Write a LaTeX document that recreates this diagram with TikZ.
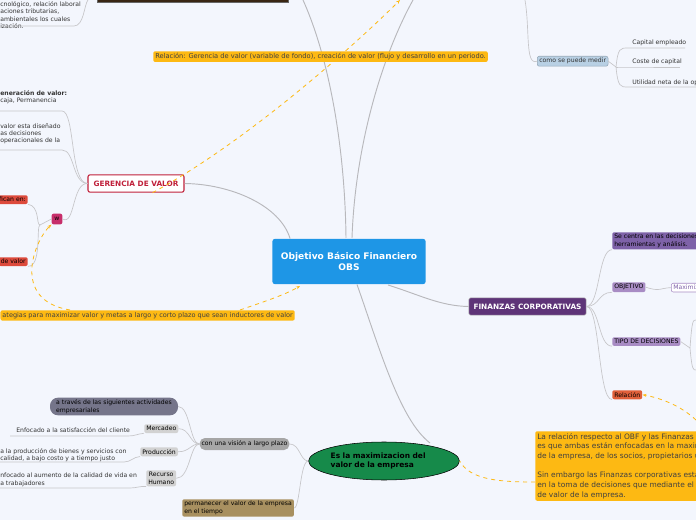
\documentclass[tikz,border=0pt]{standalone}
\usepackage{fontspec}
\setmainfont{DejaVu Sans}
\usetikzlibrary{shapes.geometric,arrows.meta}
\definecolor{bg}{HTML}{F3F6FD}
\definecolor{ln}{HTML}{B8B8BC}
\definecolor{yel}{HTML}{FDB913}
\definecolor{blu}{HTML}{1E96E6}
\definecolor{pur}{HTML}{5E3478}
\definecolor{gred}{HTML}{C0203A}
\definecolor{lpur}{HTML}{A88CC4}
\definecolor{mpur}{HTML}{7E62A8}
\definecolor{ored}{HTML}{E0603A}
\definecolor{rred}{HTML}{DD4A3C}
\definecolor{egreen}{HTML}{168A4A}
\definecolor{tan}{HTML}{A89060}
\definecolor{lblue}{HTML}{B8D0E4}
\begin{document}
\begin{tikzpicture}[x=0.75pt,y=-0.75pt,
  every node/.style={font=\fontsize{4.6}{5.6}\selectfont,inner sep=1.5pt},
  conn/.style={draw=ln,line width=0.7pt},
  thin/.style={draw=ln!80,line width=0.5pt},
  dsh/.style={draw=yel,dashed,line width=0.6pt,-{Stealth[length=3pt]}},
  box/.style={anchor=north west,rounded corners=1.5pt,align=left},
  txt/.style={anchor=north west,align=left,text=black!80}]
\fill[bg] (0,0) rectangle (696,520);
\useasboundingbox (0,0) rectangle (696,520);
\coordinate (x595) at (598,0);
\coordinate (x190) at (190,0);
% brown top box
\fill[black!70!brown,draw=black!60] (97,-10) rectangle (288,2);
\coordinate (bt) at (303,0); \coordinate (bt2) at (413,0); \coordinate (bt3) at (525,0); \coordinate (dt) at (400,0);
% central
\node[fill=blu,text=white,font=\fontsize{6.8}{8}\selectfont\bfseries,minimum width=115pt,minimum height=34pt,align=center,rounded corners=2pt] (c) at (349,261.5) {Objetivo Básico Financiero\\OBS};
\draw[conn] (346,238) .. controls (345,150) and (330,60) .. (bt);
\draw[conn] (352,238) .. controls (355,150) and (380,60) .. (bt2);
% top-left text
\node[txt] (tl) at (-2,-1) {cnológico, relación laboral\\aciones tributarias,\\ambientales los cuales\\ización.};
\draw[thin] (0,26) -- (74,26) .. controls (84,26) and (84,5) .. (88,0);
% relation box
\node[box,fill=yel,text=black!75,font=\fontsize{5}{6}\selectfont] (rel) at (153,51) {Relación: Gerencia de valor (variable de fondo), creación de valor (flujo y desarrollo en un periodo.};
% como se puede medir
\node[box,fill=lblue,draw=lblue!80!black,text=black!80] (cm) at (537,56) {como se puede medir};
\draw[thin] (bt3) .. controls (530,30) and (525,66) .. (cm.west);
\node[txt] (m1) at (630,38) {Capital empleado};
\node[txt] (m2) at (630,57) {Coste de capital};
\node[txt] (m3) at (630,77) {Utilidad neta de la operación};
\draw[thin] (cm.east) -- (616,67);
\foreach \y/\e in {48/685,67/680,87/700}{\draw[thin] (616,67) .. controls (618,\y) and (620,\y) .. (628,\y) -- (\e,\y);}
% gerencia
\node[box,anchor=center,fill=white,draw=gred,line width=0.8pt,text=gred,font=\fontsize{5.5}{6.5}\selectfont\bfseries,minimum width=72pt,minimum height=13pt] (g) at (136,183.5) {GERENCIA DE VALOR};
\draw[conn] (c.north west) ++(18,0) .. controls (280,205) and (230,184) .. (g.east);
\node[txt] (g1) at (-2,88) {\textbf{eneración de valor:}\\ caja, Permanencia};
\node[txt] (g2) at (-2,121) {valor esta diseñado\\as decisiones\\operacionales de la};
\draw[thin] (0,111) -- (62,111) .. controls (75,111) and (70,183) .. (g.west);
\draw[thin] (0,150) -- (62,150) .. controls (75,150) and (72,183) .. (g.west);
\node[box,anchor=center,fill=magenta!70!red!80!black,text=black,minimum width=8pt,minimum height=8pt] (w) at (57,219) {w};
\draw[thin] (g.west) .. controls (72,183) and (75,226) .. (w.east);
\node[box,fill=rred,text=black,anchor=north east] (r1) at (28,195) {fican en:};
\node[box,fill=rred,text=black,anchor=north east] (r2) at (28,257) {de valor};
\draw[thin] (w.west) -- (40,225) .. controls (36,225) and (40,206) .. (r1.south east);
\draw[thin] (40,225) .. controls (36,225) and (42,267) .. (r2.south east);
% bottom left yellow
\node[box,fill=yel,text=black!75,font=\fontsize{4.9}{6}\selectfont,anchor=north east] (yb) at (295,310) {ategias para maximizar valor y metas a largo y corto plazo que sean inductores de valor};
\draw[dsh] (240,310) .. controls (260,303) and (285,295) .. (300,286);
\draw[dsh] (70,310) .. controls (10,300) and (35,240) .. (w.south west);
\draw[dsh] (g.south east) ++(-32,0) .. controls (250,140) and (360,40) .. (dt);
% finanzas
\node[box,anchor=center,fill=pur,draw=black!30,text=white,font=\fontsize{5.5}{6.5}\selectfont\bfseries,minimum width=88pt,minimum height=13pt] (f) at (527.5,306.5) {FINANZAS CORPORATIVAS};
\draw[conn] (388,285) .. controls (420,295) and (440,306) .. (f.west);
\node[box,fill=mpur,text=black,font=\fontsize{4.6}{5.4}\selectfont] (f1) at (612,232) {Se centra en las decisiones n\\herramientas y análisis.};
\node[box,fill=lpur,text=black] (f2) at (612,282) {OBJETIVO};
\node[box,fill=white,draw=lpur,text=mpur] (f2a) at (671,283) {Maximiz};
\node[box,fill=lpur,text=black] (f3) at (612,337) {TIPO DE DECISIONES};
\node[box,fill=ored,text=black] (f4) at (612,390) {Relación};
\foreach \n in {f1,f2,f3,f4}{\draw[thin] (f.east) .. controls (600,306) and (x595 |- \n.south west) .. (\n.south west);}
\draw[thin] (f2.east) .. controls (660,292) and (660,288) .. (f2a.west);
\draw[thin] (f3.east) -- (690,348);
\foreach \y in {320,370}{\draw[thin] (690,348) .. controls (692,\y) and (693,\y) .. (696,\y);}
% big yellow
\node[box,fill=yel,text=black!75,font=\fontsize{5.6}{7.3}\selectfont,minimum width=150pt,minimum height=52pt] (yb2) at (535,431) {La relación respecto al OBF y las Finanzas corporativas\\es que ambas están enfocadas en la maximización de valor\\de la empresa, de los socios, propietarios u accionistas.\\[7pt]Sin embargo las Finanzas corporativas están más enfocadas\\en la toma de decisiones que mediante el OBF permite la creación\\de valor de la empresa.};
\coordinate (ye) at (696,420);
\draw[dsh] (ye) .. controls (680,405) and (660,398) .. (f4.east);
% ellipse
\node[ellipse,fill=egreen,draw=black,minimum width=111pt,minimum height=28.5pt,text width=80pt,align=left,font=\fontsize{5.6}{6.8}\selectfont\bfseries,inner sep=0pt] (e) at (384,461) {Es la maximizacion del\\valor de la empresa};
\draw[dsh,-] (535,482) .. controls (500,482) and (470,480) .. (e.east);
\draw[conn] (c.south) ++(8,0) .. controls (380,350) and (400,420) .. (430,443);
% left bottom
\node[box,anchor=center,fill=gray!70,text=black,rounded corners=4pt,minimum width=64pt,minimum height=9pt] (v) at (244.5,444) {con una visión a largo plazo};
\node[box,fill=tan,text=black] (p) at (182,499) {permanecer el valor de la empresa\\en el tiempo};
\draw[thin] (e.west) .. controls (300,461) and (300,444) .. (v.east);
\draw[thin] (e.west) .. controls (300,461) and (300,508) .. (p.east);
\node[box,anchor=center,fill=gray!60!blue!20!gray,text=black,rounded corners=6pt,minimum width=96pt,minimum height=12pt] (a) at (114,406.5) {a través de las siguientes actividades\\empresariales};
\node[box,fill=gray!35,text=black] (mk) at (144,424) {Mercadeo};
\node[box,fill=gray!35,text=black] (pr) at (140,447) {Producción};
\node[box,fill=gray!35,text=black,align=center] (rh) at (146,470) {Recurso\\Humano};
\foreach \n in {a,mk,pr,rh}{\draw[thin] (v.west) .. controls (190,444) and (x190 |- \n.east) .. (\n.east);}
\node[txt] (t1) at (14,425) {Enfocado a la satisfacción del cliente};
\node[txt] (t2) at (-2,446) {a la producción de bienes y servicios con\\calidad, a bajo costo y a tiempo justo};
\node[txt] (t3) at (-2,471) {nfocado al aumento de la calidad de vida en\\a trabajadores};
\draw[thin] (10,436) -- (128,436) .. controls (135,436) and (137,434) .. (mk.south west);
\draw[thin] (0,462) -- (124,462) .. controls (131,462) and (133,457) .. (pr.south west);
\draw[thin] (0,488) -- (130,488) .. controls (137,488) and (139,486) .. (rh.south west);
\end{tikzpicture}
\end{document}
